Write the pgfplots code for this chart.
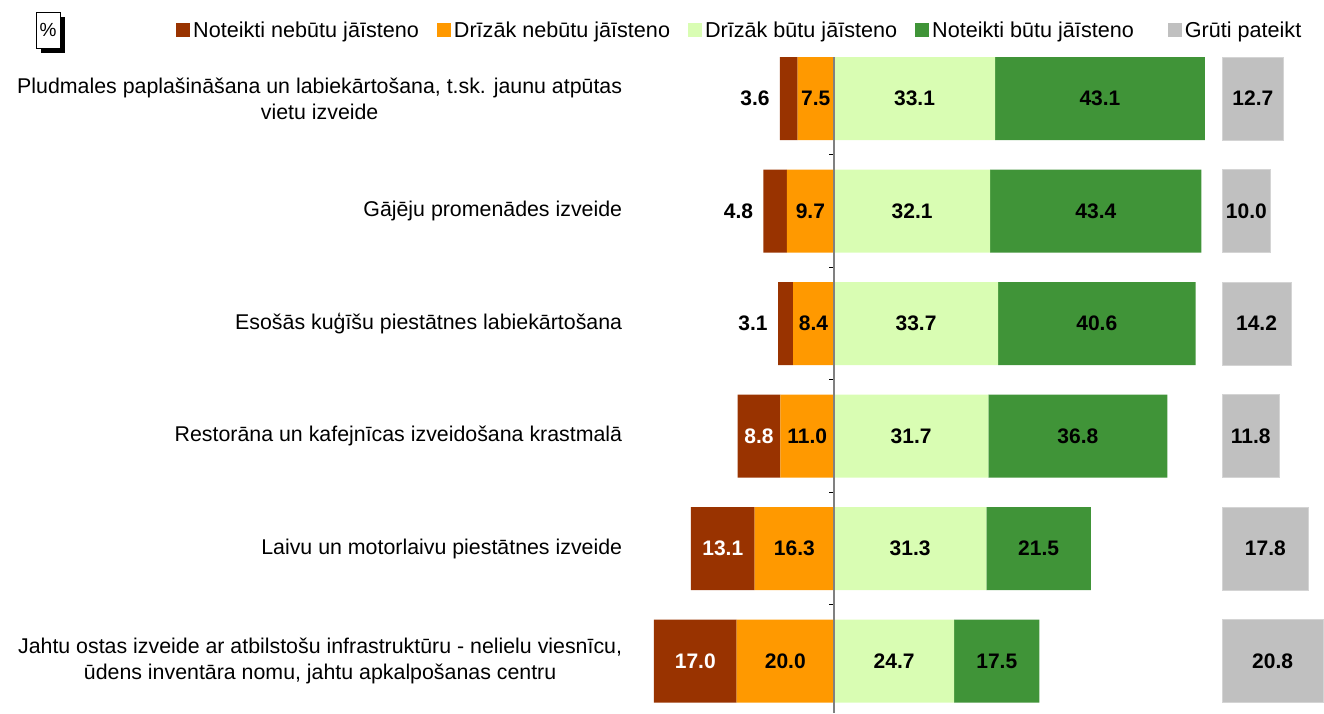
\documentclass[border=0pt]{standalone}
\usepackage{pgfplots}
\pgfplotsset{compat=1.18}
\usepackage{fontspec}
\setmainfont{Liberation Sans}
\definecolor{cBrown}{HTML}{993300}
\definecolor{cOrange}{HTML}{FF9900}
\definecolor{cLight}{HTML}{D9FDB3}
\definecolor{cGreen}{HTML}{409438}
\definecolor{cGray}{HTML}{C0C0C0}
\definecolor{cGrayEdge}{HTML}{D4D4D4}
\definecolor{cAxis}{HTML}{808080}
\protected\def\W#1{\textcolor{white}{#1}}
\def\U{4.867}
\pgfplotsset{
  rowaxis/.style={scale only axis, height=656pt, ymin=-0.369, ymax=5.462,
    y dir=reverse, bar width=83pt, clip=false},
  sqlegend/.style={legend image code/.code={\fill[##1] (0pt,-7pt) rectangle (14pt,7pt);}},
  lblbase/.style={nodes near coords, point meta=explicit symbolic,
    visualization depends on=rawx \as \rawx,
    every node near coord/.append style={font=\fontsize{21}{25}\selectfont\bfseries,
      anchor=center, inner sep=0pt, text=black}},
  lblc/.style={lblbase,
    every node near coord/.append style={xshift={-0.5*\U*(\rawx)}}},
}
\begin{document}
\begin{tikzpicture}[x=1pt,y=1pt]
\useasboundingbox (0,0) rectangle (1324,713);

% percent box
\fill[black] (41,660) rectangle (65,696);
\draw[black, fill=white, line width=0.6pt] (36,665) rectangle (60,701);
\node[font=\fontsize{19}{22}\selectfont] at (48,683) {\%};

% negative side
\begin{axis}[rowaxis, xbar stacked, at={(639.32pt,0pt)}, anchor=south west,
  width=194.68pt, xmin=-40, xmax=0,
  axis line style={draw=none}, xtick=\empty, ytick={0,1,2,3,4,5}, major tick length=0pt,
  yticklabels={{Pludmales paplašināšana un labiekārtošana, t.sk. jaunu atpūtas\\vietu izveide},
    {Gājēju promenādes izveide},
    {Esošās kuģīšu piestātnes labiekārtošana},
    {Restorāna un kafejnīcas izveidošana krastmalā},
    {Laivu un motorlaivu piestātnes izveide},
    {Jahtu ostas izveide ar atbilstošu infrastruktūru - nelielu viesnīcu,\\ūdens inventāra nomu, jahtu apkalpošanas centru}},
  yticklabel style={align=center, font=\fontsize{21.35}{26}\selectfont, inner sep=0pt, xshift=-17pt}]
\addplot[fill=cOrange, draw=none, lblbase] coordinates {
  (-7.5,0) [7.5] (-9.7,1) [9.7] (-8.4,2) [8.4] (-11.0,3) [11.0] (-16.3,4) [16.3] (-20.0,5) [20.0]};
\addplot[fill=cBrown, draw=none, lblbase,
  every node near coord/.append style={xshift={ifthenelse(\rawx>-5,0.5*\U*(\rawx)-25,0)}}] coordinates {
  (-3.6,0) [3.6] (-4.8,1) [4.8] (-3.1,2) [3.1] (-8.8,3) [\W{8.8}] (-13.1,4) [\W{13.1}] (-17.0,5) [\W{17.0}]};
\end{axis}

% positive side
\begin{axis}[rowaxis, xbar stacked, at={(834pt,0pt)}, anchor=south west,
  width=389.36pt, xmin=0, xmax=80, axis on top,
  axis x line=none, axis y line*=left,
  axis line style={draw=cAxis, line width=1.4pt},
  ytick={0.5,1.5,2.5,3.5,4.5}, yticklabels={}, tick align=outside,
  major tick length=5pt, ytick style={black, line width=1pt},
  every axis plot post/.append style={sqlegend},
  legend columns=5,
  legend style={at={(axis description cs:-1.690,1.0412)}, anchor=west, draw=none, fill=none,
    inner sep=0pt, font=\fontsize{21.6}{25}\selectfont,
    nodes={inner sep=0pt, anchor=west},
    /tikz/every odd column/.append style={column sep=3pt},
    /tikz/every even column/.append style={column sep=18pt}}]
\addlegendimage{fill=cBrown, draw=none, sqlegend}
\addlegendentry{Noteikti nebūtu jāīsteno}
\addlegendimage{fill=cOrange, draw=none, sqlegend}
\addlegendentry{Drīzāk nebūtu jāīsteno}
\addplot[fill=cLight, draw=none, lblbase, sqlegend] coordinates {
  (33.1,0) [33.1] (32.1,1) [32.1] (33.7,2) [33.7] (31.7,3) [31.7] (31.3,4) [31.3] (24.7,5) [24.7]};
\addlegendentry{Drīzāk būtu jāīsteno}
\addplot[fill=cGreen, draw=none, lblbase, sqlegend] coordinates {
  (43.1,0) [43.1] (43.4,1) [43.4] (40.6,2) [40.6] (36.8,3) [36.8] (21.5,4) [21.5] (17.5,5) [17.5]};
\addlegendentry{Noteikti būtu jāīsteno\hspace{16pt}\mbox{}}
\addlegendimage{fill=cGray, draw=none, sqlegend}
\addlegendentry{Grūti pateikt}
\end{axis}

% hard to say
\begin{axis}[rowaxis, xbar, at={(1222pt,0pt)}, anchor=south west,
  width=102.207pt, xmin=0, xmax=21, hide axis]
\addplot[fill=cGray, draw=cGrayEdge, line width=0.8pt, lblc] coordinates {
  (12.7,0) [12.7] (10.0,1) [10.0] (14.2,2) [14.2] (11.8,3) [11.8] (17.8,4) [17.8] (20.8,5) [20.8]};
\end{axis}
\end{tikzpicture}
\end{document}
